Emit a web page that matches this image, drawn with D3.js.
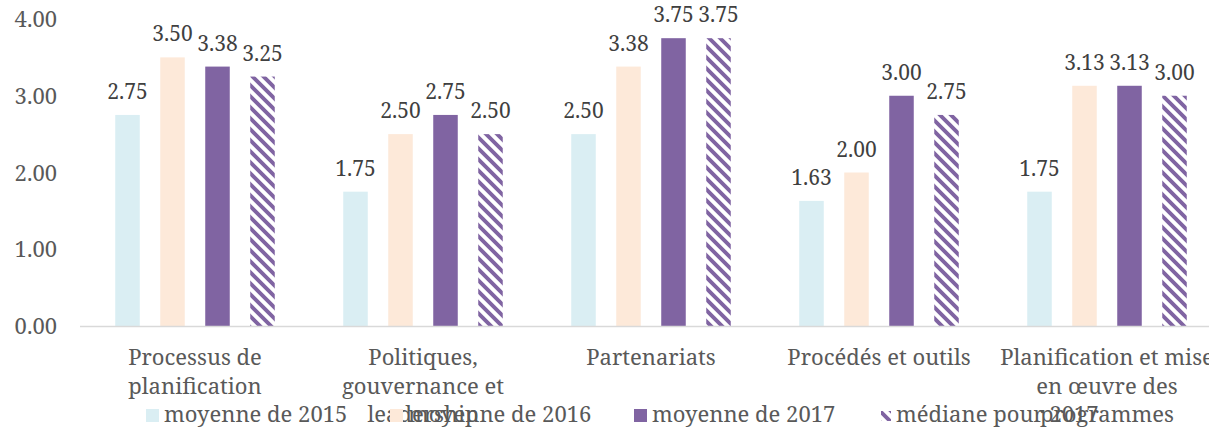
<!DOCTYPE html>
<html>
<head>
<meta charset="utf-8">
<script src="https://cdn.jsdelivr.net/npm/d3@7"></script>
<style>
    body { margin: 0; background: #fff; overflow: hidden; }
</style>
</head>
<body>
<script>
(function () {

    'use strict'

    const FONT = '"Noto Serif", "Liberation Serif", serif'

    // categories, one array of lines per tick label (wrapped as in the original)
    const categories = ['Processus de planification', 'Politiques, gouvernance et leadership',
        'Partenariats', 'Procédés et outils', 'Planification et mise en œuvre des programmes']
    const categoryLines = [
        ['Processus de', 'planification'],
        ['Politiques,', 'gouvernance et', 'leadership'],
        ['Partenariats'],
        ['Procédés et outils'],
        ['Planification et mise', 'en œuvre des', 'programmes']
    ]

    const seriesNames = ['moyenne de 2015', 'moyenne de 2016', 'moyenne de 2017', 'médiane pour 2017']
    const avg2015 = [2.75, 1.75, 2.50, 1.63, 1.75]
    const avg2016 = [3.50, 2.50, 3.38, 2.00, 3.13]
    const avg2017 = [3.38, 2.75, 3.75, 3.00, 3.13]
    const median2017 = [3.25, 2.50, 3.75, 2.75, 3.00]

    const yTicks = [0, 1, 2, 3, 4]

    const seriesValues = [avg2015, avg2016, avg2017, median2017]
    const colors = ['#DAEEF3', '#FDE9D9', '#8064A2', 'url(#hatch)']

    const width = 1209
        , height = 431
        , plot = { left: 81, right: 1221, top: 19, bottom: 326 }

    const svg = d3.select('body')
        .append('svg')
        .attr('width', width)
        .attr('height', height)

    // wide downward diagonal hatch for the median series
    const p = 11, w = p / 2
    const pattern = svg.append('defs')
        .append('pattern')
        .attr('id', 'hatch')
        .attr('patternUnits', 'userSpaceOnUse')
        .attr('width', p)
        .attr('height', p)
    pattern.append('rect').attr('width', p).attr('height', p).attr('fill', '#fff')
    pattern.append('path')
        .attr('fill', '#8064A2')
        .attr('d', `M0,0 L${w / 2},0 L${p},${p - w / 2} L${p},${p} L${p - w / 2},${p} L0,${w / 2} Z` +
            `M${p - w / 2},0 L${p},0 L${p},${w / 2} Z` +
            `M0,${p - w / 2} L0,${p} L${w / 2},${p} Z`)

    const x0 = d3.scaleBand()
        .domain(categories)
        .range([plot.left, plot.right])

    const x1 = d3.scaleBand()
        .domain(seriesNames)
        .range([0, x0.bandwidth() - 48])
        .paddingInner(0.455)
        .paddingOuter(0.2275)

    const yScale = d3.scaleLinear()
        .domain([0, 4])
        .range([plot.bottom, plot.top])

    const fmt = d3.format('.2f')

    // y axis labels (no line, no gridlines)
    const yAxis = svg.append('g')
        .attr('transform', 'translate(57,0)')
        .call(d3.axisLeft(yScale).tickValues(yTicks).tickFormat(fmt).tickSize(0).tickPadding(0))
    yAxis.attr('font-family', null).attr('font-size', null)
    yAxis.select('.domain').remove()
    yAxis.selectAll('text')
        .attr('fill', '#595959')
        .attr('dy', '0.35em')
        .style('font-size', '22px')
        .style('font-family', FONT)

    // bars
    const offset = 24
    const groups = svg.selectAll('.series')
        .data(seriesNames)
        .enter()
        .append('g')
        .attr('class', 'series')

    groups.each(function (name, si) {
        const g = d3.select(this)
        const rows = categories.map((c, ci) => ({ c: c, v: seriesValues[si][ci] }))

        g.selectAll('rect')
            .data(rows)
            .enter()
            .append('rect')
            .attr('x', d => x0(d.c) + offset + x1(name))
            .attr('y', d => yScale(d.v))
            .attr('width', x1.bandwidth())
            .attr('height', d => yScale(0) - yScale(d.v))
            .attr('fill', colors[si])

        g.selectAll('text')
            .data(rows)
            .enter()
            .append('text')
            .attr('x', d => x0(d.c) + offset + x1(name) + x1.bandwidth() / 2)
            .attr('y', d => yScale(d.v) - 16)
            .attr('text-anchor', 'middle')
            .attr('fill', '#404040')
            .style('font-family', FONT)
            .style('font-size', '21px')
            .text(d => fmt(d.v))
    })

    // category axis line
    svg.append('line')
        .attr('x1', plot.left - 1)
        .attr('x2', width)
        .attr('y1', yScale(0) + 0.5)
        .attr('y2', yScale(0) + 0.5)
        .attr('stroke', '#D9D9D9')
        .attr('stroke-width', 1.5)

    // category labels
    const catLabels = svg.selectAll('.cat')
        .data(categories)
        .enter()
        .append('text')
        .attr('class', 'cat')
        .attr('text-anchor', 'middle')
        .attr('fill', '#595959')
        .style('font-family', FONT)
        .style('font-size', '22px')

    catLabels.each(function (c, i) {
        d3.select(this).selectAll('tspan')
            .data(categoryLines[i])
            .enter()
            .append('tspan')
            .attr('x', x0(c) + x0.bandwidth() / 2)
            .attr('y', (d, j) => 365 + j * 28.5)
            .text(d => d)
    })

    // legend
    const legend = svg.selectAll('.legend')
        .data(seriesNames)
        .enter()
        .append('g')
        .attr('class', 'legend')
        .attr('transform', (d, i) => 'translate(' + (146 + i * 244) + ',409)')

    legend.append('rect')
        .attr('width', (d, i) => i === 3 ? 10 : 13)
        .attr('height', (d, i) => i === 3 ? 10 : 13)
        .attr('y', (d, i) => i === 3 ? 2 : 0)
        .attr('x', (d, i) => i === 3 ? 3 : 0)
        .attr('fill', (d, i) => colors[i])

    legend.append('text')
        .attr('x', 18)
        .attr('y', 13)
        .attr('fill', '#595959')
        .style('font-family', FONT)
        .style('font-size', '22px')
        .text(d => d)
})()
</script>
</body>
</html>
